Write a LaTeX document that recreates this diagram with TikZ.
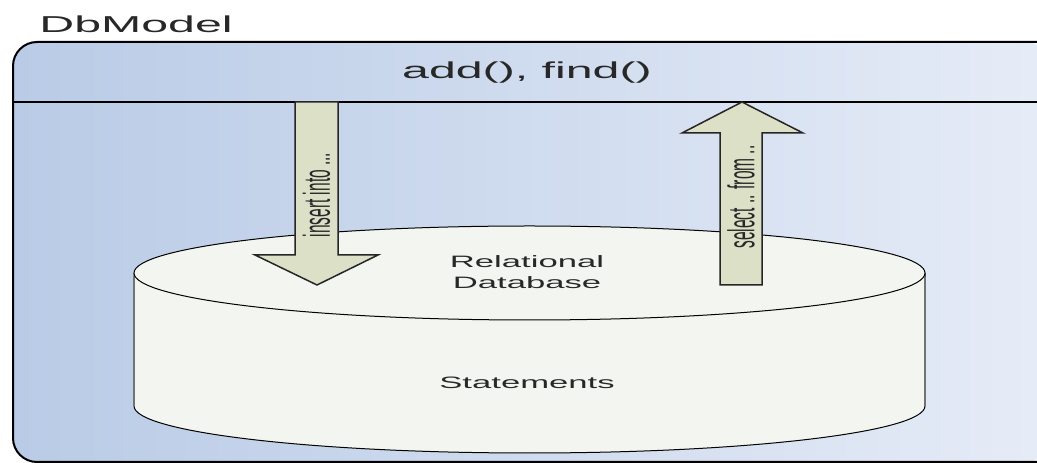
\documentclass[tikz,border=0pt]{standalone}
\usepackage{fontspec}
\setmainfont{Liberation Sans}

\definecolor{boxleft}{RGB}{185,203,230}
\definecolor{boxright}{RGB}{230,236,247}
\definecolor{cylfill}{RGB}{243,246,240}
\definecolor{arrowfill}{RGB}{220,224,199}
\definecolor{textgray}{RGB}{40,40,40}

\tikzset{
  wide/.style={xscale=2.1, text=textgray},
  arrowbody/.style={fill=arrowfill, draw=black!85, line width=1.5pt, line join=miter},
}

\begin{document}
\begin{tikzpicture}[x=1pt, y=1pt]
    \useasboundingbox (0,0) rectangle (1037,463);
    \clip (0,0) rectangle (1037,463);

    % Outer box
    \shade[rounded corners=24pt, left color=boxleft, right color=boxright] (13,1) rectangle (1050,421);
    \draw[line width=2pt, rounded corners=24pt] (1050,1) -- (13,1) -- (13,421) -- (1041,421);
    \draw[line width=2pt] (1041,421) arc[start angle=90, end angle=20, radius=24pt];
    \draw[line width=2pt] (13,361) -- (1050,361);
    \node[wide, font=\fontsize{23}{28}\selectfont, anchor=base west] (title) at (32,430) {DbModel};
    \node[wide, font=\fontsize{23}{28}\selectfont] (ops) at (527,390) {add(), find()};

    % Database cylinder
    \draw[fill=cylfill, line width=1pt] (134,190) -- (134,57) arc[start angle=180, end angle=360, x radius=395.5, y radius=47] -- (925,190);
    \draw[line width=2.5pt, black!55] (134,186) -- (134,57) (925,186) -- (925,57);
    \draw[fill=cylfill, line width=1pt] (529.5,190) ellipse[x radius=395.5, y radius=47];
    \node[wide, font=\fontsize{16.5}{21}\selectfont, align=center] (db) at (527,191) {Relational\\Database};
    \node[wide, font=\fontsize{16.5}{21}\selectfont] (stmts) at (527,80) {Statements};

    % Arrows
    \draw[arrowbody] (295,361) -- (295,208) -- (255,208) -- (317,178) -- (378,208) -- (338,208) -- (338,361) -- cycle;
    \draw[arrowbody] (720,178) -- (720,330) -- (682,330) -- (742,361) -- (803,330) -- (762,330) -- (762,178) -- cycle;
    \node[wide, xscale=1.15, rotate=90, font=\fontsize{15.5}{18}\selectfont] (insert) at (316.5,268) {insert into ...};
    \node[wide, xscale=1.15, rotate=90, font=\fontsize{15.5}{18}\selectfont] (select) at (741,266) {select .. from ..};
\end{tikzpicture}
\end{document}
